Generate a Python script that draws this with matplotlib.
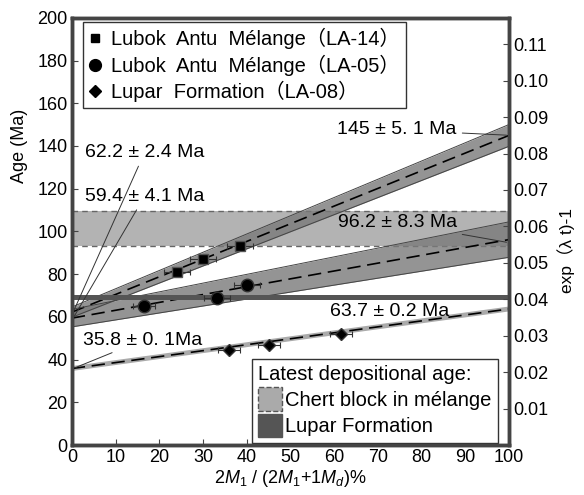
import matplotlib
matplotlib.use("Agg")
import matplotlib.pyplot as plt
from matplotlib.patches import Patch
from matplotlib.lines import Line2D
import numpy as np

plt.rcParams['font.family'] = ['Liberation Sans', 'Noto Sans CJK SC', 'DejaVu Sans']
plt.rcParams['mathtext.fontset'] = 'custom'
plt.rcParams['mathtext.rm'] = 'Liberation Sans'
plt.rcParams['mathtext.it'] = 'Liberation Sans:italic'

# isochron lines: age at x=0 and x=100 (Ma), with band half-widths
names = ["LA-14", "LA-05", "LA-08"]
age_left = [62.2, 59.4, 35.8]
age_left_err = [2.4, 4.1, 0.1]
age_right = [145.0, 96.2, 63.7]
age_right_err = [5.1, 8.3, 0.2]

# data points (x %, age Ma, x error)
la14_x = [24.0, 30.0, 38.4]
la14_y = [80.8, 87.2, 93.4]
la14_xerr = [3.0, 3.0, 3.0]
la05_x = [16.5, 33.2, 40.0]
la05_y = [65.2, 68.8, 75.0]
la05_xerr = [2.5, 3.0, 3.0]
la08_x = [35.9, 45.1, 61.6]
la08_y = [44.6, 46.9, 52.0]
la08_xerr = [2.5, 2.5, 2.5]

chert_band = [93.0, 109.5]
lupar_band = [67.8, 70.2]

lam = 5.543e-4  # 1/Ma

fig = plt.figure(figsize=(5.84, 4.95), dpi=100)
ax = fig.add_axes([0.123, 0.101, 0.749, 0.863])
ax.set_xlim(0, 100)
ax.set_ylim(0, 200)

# chert block and Lupar bands
ax.axhspan(chert_band[0], chert_band[1], facecolor='#b3b3b3', edgecolor='none', zorder=1)
ax.axhline(chert_band[0], color='#666666', lw=1, ls=(0, (4, 3)), zorder=1.5)
ax.axhline(chert_band[1], color='#666666', lw=1, ls=(0, (4, 3)), zorder=1.5)
ax.axhspan(lupar_band[0], lupar_band[1], facecolor='#555555', edgecolor='none', zorder=4)

xx = np.array([0, 100])
for i in range(3):
    c = np.array([age_left[i], age_right[i]])
    up = np.array([age_left[i] + age_left_err[i], age_right[i] + age_right_err[i]])
    lo = np.array([age_left[i] - age_left_err[i], age_right[i] - age_right_err[i]])
    if i < 2:
        ax.fill_between(xx, lo, up, color='#7a7a7a', alpha=0.8, lw=0, zorder=2)
        ax.plot(xx, up, color='#444444', lw=0.7, zorder=3)
        ax.plot(xx, lo, color='#444444', lw=0.7, zorder=3)
    else:
        ax.plot(xx, c, color='#aaaaaa', lw=3.5, zorder=2)
    ax.plot(xx, c, color='black', lw=1.2, ls=(0, (8, 4)), zorder=3)

ekw = dict(ecolor='#333333', elinewidth=0.8, capsize=2.5, capthick=0.8, ls='none', zorder=5)
ax.errorbar(la14_x, la14_y, xerr=la14_xerr, marker='s', ms=6.5, mfc='black', mec='#555555', **ekw)
ax.errorbar(la05_x, la05_y, xerr=la05_xerr, marker='o', ms=9, mfc='black', mec='#333333', **ekw)
ax.errorbar(la08_x, la08_y, xerr=la08_xerr, marker='D', ms=6.5, mfc='black', mec='#333333', **ekw)

fs = 13
afs = 14
# intercept labels with leaders
akw = dict(fontsize=afs, arrowprops=dict(arrowstyle='-', color='#333333', lw=0.7), zorder=6)
ax.annotate("62.2 ± 2.4 Ma", xy=(0.3, age_left[0]), xytext=(3, 137), va='center', ha='left', **akw)
ax.annotate("59.4 ± 4.1 Ma", xy=(0.3, age_left[1]), xytext=(3, 116.5), va='center', ha='left', **akw)
ax.annotate("35.8 ± 0. 1Ma", xy=(0.3, age_left[2]), xytext=(2.5, 49), va='center', ha='left', **akw)
ax.annotate("145 ± 5. 1 Ma", xy=(100, age_right[0]), xytext=(88, 147.5), va='center', ha='right', **akw)
ax.annotate("96.2 ± 8.3 Ma", xy=(100, age_right[1] - 1.5), xytext=(88, 104), va='center', ha='right', **akw)
ax.text(59, 62.5, "63.7 ± 0.2 Ma", fontsize=afs, va='center', ha='left', zorder=6)

# legends
h1 = [Line2D([], [], marker='s', color='black', ls='none', ms=6),
      Line2D([], [], marker='o', color='black', ls='none', ms=8.5),
      Line2D([], [], marker='D', color='black', ls='none', ms=6)]
l1 = ["Lubok  Antu  Mélange（LA-14）", "Lubok  Antu  Mélange（LA-05）", "Lupar  Formation（LA-08）"]
leg1 = ax.legend(h1, l1, loc='upper left', bbox_to_anchor=(0.025, 0.99), borderaxespad=0,
                 fancybox=False, edgecolor='#333333', fontsize=14.5, handlelength=0.6,
                 handletextpad=0.5, labelspacing=0.25, borderpad=0.3, framealpha=1)
leg1.get_frame().set_linewidth(1)
leg1.set_zorder(10)
ax.add_artist(leg1)

h2 = [Patch(facecolor='#aaaaaa', edgecolor='#555555', linestyle='--', lw=1),
      Patch(facecolor='#555555', edgecolor='#555555')]
l2 = ["Chert block in mélange", "Lupar Formation"]
leg2 = ax.legend(h2, l2, loc='lower left', bbox_to_anchor=(0.412, 0.005), borderaxespad=0,
                 title="Latest depositional age:", title_fontsize=14.5, alignment='left',
                 fancybox=False, edgecolor='#333333', fontsize=14.5, handlelength=1.2,
                 handleheight=1.4, handletextpad=0.15, labelspacing=0.15, borderpad=0.3,
                 framealpha=1)
leg2.get_frame().set_linewidth(1)
leg2.set_zorder(10)

ax.set_xticks(np.arange(0, 101, 10))
ax.set_yticks(np.arange(0, 201, 20))
ax.tick_params(direction='in', labelsize=fs, length=4, color='#444444', pad=3)
for s in ax.spines.values():
    s.set_color('#444444')
    s.set_linewidth(2.5)
ax.set_ylabel("Age (Ma)", fontsize=13)
ax.yaxis.set_label_coords(-0.1, 0.7)
ax.set_xlabel(r"2$\mathit{M}_1$ / (2$\mathit{M}_1$+1$\mathit{M}_d$)%", fontsize=fs, labelpad=1)

ax2 = ax.twinx()
ax2.set_ylim(0, np.exp(lam * 200) - 1)
ax2.set_yticks(np.arange(0.01, 0.111, 0.01))
ax2.set_yticklabels(["%.2f" % v for v in np.arange(0.01, 0.111, 0.01)])
ax2.tick_params(direction='in', labelsize=fs, length=4, color='#444444', pad=3)
for s in ax2.spines.values():
    s.set_color('#444444')
    s.set_linewidth(2.5)
ax2.set_ylabel("exp（λ t)-1", fontsize=12.5)
ax2.yaxis.set_label_coords(1.11, 0.455)

fig.savefig("out.png", dpi=100)
